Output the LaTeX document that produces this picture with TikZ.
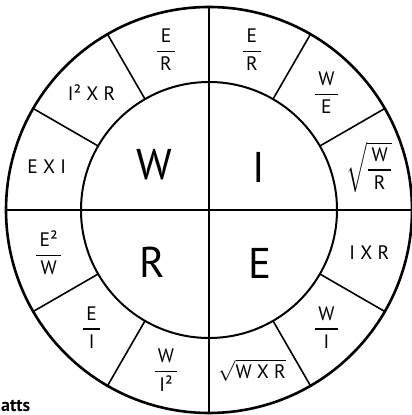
\documentclass[tikz,border=0pt]{standalone}
\usepackage{amsmath}
\usepackage{fontspec}
\setmainfont{PT Sans}
\usepackage{tikz}
\usetikzlibrary{calc}

\newcommand{\fr}[2]{\genfrac{}{}{1.3pt}{0}{\text{\,#1\,}}{\text{\,#2\,}}}

\begin{document}
\begin{tikzpicture}[x=1pt, y=1pt,
  rim/.style={line width=2.6pt},
  ring/.style={line width=2pt},
  spoke/.style={line width=1.6pt},
  big/.style={font=\fontsize{43}{43}\selectfont, inner sep=0pt},
  lbl/.style={font=\fontsize{19.5}{21}\selectfont, inner sep=0pt}
]
  \useasboundingbox (0,0) rectangle (412,415);
  \coordinate (o) at (209,205);

  \draw[rim] (o) circle (203);
  \draw[ring] (o) circle (128);
  \draw[spoke] ($(o)+(0,203)$) -- ($(o)+(0,-203)$);
  \draw[spoke] ($(o)+(-203,0)$) -- ($(o)+(203,0)$);
  \foreach \a in {30,60,120,150,210,240,300,330}
    \draw[spoke] ($(o)+(\a:128)$) -- ($(o)+(\a:203)$);

  % quadrant letters
  \node[big] (w) at ($(o)+(-55,45)$) {W};
  \node[big] (i) at ($(o)+(50,43)$) {I};
  \node[big] (r) at ($(o)+(-57,-52)$) {R};
  \node[big] (e) at ($(o)+(51,-53)$) {E};

  % I sector
  \node[lbl] (i1) at ($(o)+(75:166)$) {$\fr{E}{R}$};
  \node[lbl] (i2) at ($(o)+(45:166)$) {$\fr{W}{E}$};
  \node[lbl] (i3) at ($(o)+(15:166)$) {$\sqrt{\fr{W}{R}}$};
  % E sector
  \node[lbl] (e1) at ($(o)+(-15:166)$) {I X R};
  \node[lbl] (e2) at ($(o)+(-45:166)$) {$\fr{W}{I}$};
  \node[lbl] (e3) at ($(o)+(-75:166)$) {$\sqrt{\text{W X R}}$};
  % R sector
  \node[lbl] (r1) at ($(o)+(255:166)$) {$\fr{W}{I²}$};
  \node[lbl] (r2) at ($(o)+(225:166)$) {$\fr{E}{I}$};
  \node[lbl] (r3) at ($(o)+(195:166)$) {$\fr{E²}{W}$};
  % W sector
  \node[lbl] (w1) at ($(o)+(165:168)$) {E X I};
  \node[lbl] (w2) at ($(o)+(135:166)$) {I² X R};
  \node[lbl] (w3) at ($(o)+(105:166)$) {$\fr{E}{R}$};

  \node[anchor=base west, inner sep=0pt, font=\fontsize{18}{18}\selectfont\bfseries] (unit) at (1,3) {atts};
\end{tikzpicture}
\end{document}
